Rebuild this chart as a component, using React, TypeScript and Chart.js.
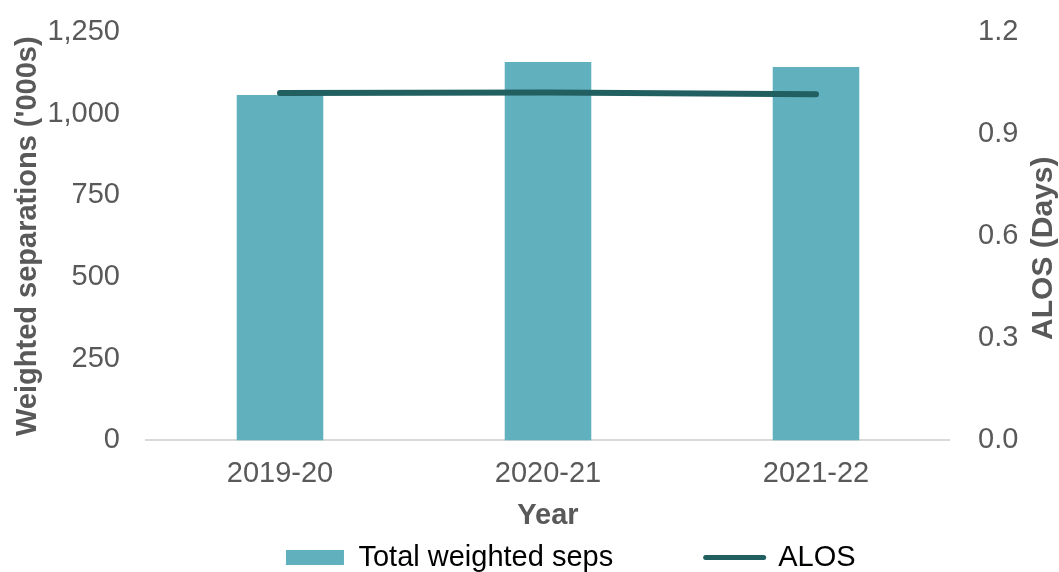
import React, { useEffect, useRef } from "react";
import { Chart, registerables } from "chart.js";

Chart.register(...registerables);

const categories = ["2019-20", "2020-21", "2021-22"];
const weightedSeps = [1057, 1158, 1143];
const alos = [1.021, 1.022, 1.017];
const leftTicks = [0, 250, 500, 750, 1000, 1250];
const rightTicks = [0, 0.3, 0.6, 0.9, 1.2];

const BAR_COLOR = "#60B0BD";
const LINE_COLOR = "#215F60";
const TEXT_COLOR = "#595959";
const FONT = '"Liberation Sans", Arial, sans-serif';

const rightTitlePlugin = {
  id: "rightTitle",
  afterDraw(chart: any) {
    const s = chart.scales.y1;
    if (!s) return;
    const ctx = chart.ctx;
    ctx.save();
    ctx.translate(s.right - 15, (s.top + s.bottom) / 2 + 12);
    ctx.rotate(-Math.PI / 2);
    ctx.textAlign = "center";
    ctx.textBaseline = "middle";
    ctx.font = `bold 30px ${FONT}`;
    ctx.fillStyle = TEXT_COLOR;
    ctx.fillText("ALOS (Days)", 0, 0);
    ctx.restore();
  },
};

export default function App() {
  const ref = useRef<HTMLCanvasElement | null>(null);

  useEffect(() => {
    if (!ref.current) return;
    const chart = new Chart(ref.current, {
      type: "bar",
      data: {
        labels: categories,
        datasets: [
          {
            type: "line",
            label: "ALOS",
            data: alos,
            yAxisID: "y1",
            borderColor: LINE_COLOR,
            backgroundColor: LINE_COLOR,
            borderWidth: 6,
            borderCapStyle: "round",
            pointRadius: 0,
            tension: 0,
            order: 0,
          } as any,
          {
            type: "bar",
            label: "Total weighted seps",
            data: weightedSeps,
            yAxisID: "y",
            backgroundColor: BAR_COLOR,
            borderWidth: 0,
            categoryPercentage: 1,
            barPercentage: 0.323,
            order: 1,
          } as any,
        ],
      },
      options: {
        responsive: false,
        animation: false,
        layout: { padding: { top: 32, left: 0, right: 0, bottom: -10 } },
        plugins: {
          tooltip: { enabled: false },
          legend: {
            position: "bottom",
            labels: {
              usePointStyle: true,
              pointStyleWidth: 58,
              boxHeight: 15,
              padding: 10,
              color: TEXT_COLOR,
              font: { family: FONT, size: 29 },
              generateLabels: () => {
                const spacer = {
                  text: "",
                  fillStyle: "rgba(0,0,0,0)",
                  strokeStyle: "rgba(0,0,0,0)",
                  lineWidth: 0,
                  pointStyle: "rect",
                  hidden: false,
                };
                return [
                  { ...spacer },
                  {
                    text: "Total weighted seps",
                    fillStyle: BAR_COLOR,
                    strokeStyle: BAR_COLOR,
                    lineWidth: 0,
                    pointStyle: "rect",
                    hidden: false,
                    datasetIndex: 1,
                  },
                  { ...spacer },
                  {
                    text: "ALOS",
                    fillStyle: LINE_COLOR,
                    strokeStyle: LINE_COLOR,
                    lineWidth: 5,
                    lineCap: "round",
                    pointStyle: "line",
                    hidden: false,
                    datasetIndex: 0,
                  },
                ] as any;
              },
            },
          },
        },
        scales: {
          x: {
            grid: { display: true, color: "rgba(0,0,0,0)", lineWidth: 0, drawTicks: false },
            border: { display: true, color: "#D9D9D9", width: 2 },
            ticks: { color: TEXT_COLOR, font: { family: FONT, size: 29 }, padding: 16 },
            title: {
              display: true,
              text: "Year",
              color: TEXT_COLOR,
              font: { family: FONT, size: 29, weight: "bold" },
              padding: { top: -9, bottom: 0 },
            },
          },
          y: {
            position: "left",
            min: 0,
            max: 1250,
            afterFit: (s: any) => {
              s.width = 146;
              s.paddingTop = 0;
              s.paddingBottom = 0;
            },
            afterBuildTicks: (s: any) => {
              s.ticks = leftTicks.map((v) => ({ value: v }));
            },
            grid: { display: false, drawTicks: false },
            border: { display: false },
            ticks: {
              color: TEXT_COLOR,
              font: { family: FONT, size: 29 },
              padding: 26,
              callback: (v: any) => Number(v).toLocaleString("en-US"),
            },
            title: {
              display: true,
              text: "Weighted separations ('000s)",
              color: TEXT_COLOR,
              font: { family: FONT, size: 29, weight: "bold", lineHeight: 1 },
              padding: { top: 13, bottom: 0 },
            },
          },
          y1: {
            position: "right",
            min: 0,
            max: 1.2,
            afterFit: (s: any) => {
              s.width = 109;
              s.paddingTop = 0;
              s.paddingBottom = 0;
            },
            afterBuildTicks: (s: any) => {
              s.ticks = rightTicks.map((v) => ({ value: v }));
            },
            grid: { display: false, drawTicks: false },
            border: { display: false },
            ticks: {
              color: TEXT_COLOR,
              font: { family: FONT, size: 29 },
              padding: 28,
              callback: (v: any) => Number(v).toFixed(1),
            },
          },
        },
      },
      plugins: [rightTitlePlugin],
    });
    return () => chart.destroy();
  }, []);

  return (
    <div style={{ position: "absolute", left: 0, top: 0, width: 1059, height: 572, background: "#fff" }}>
      <canvas ref={ref} width={1059} height={572} />
    </div>
  );
}
